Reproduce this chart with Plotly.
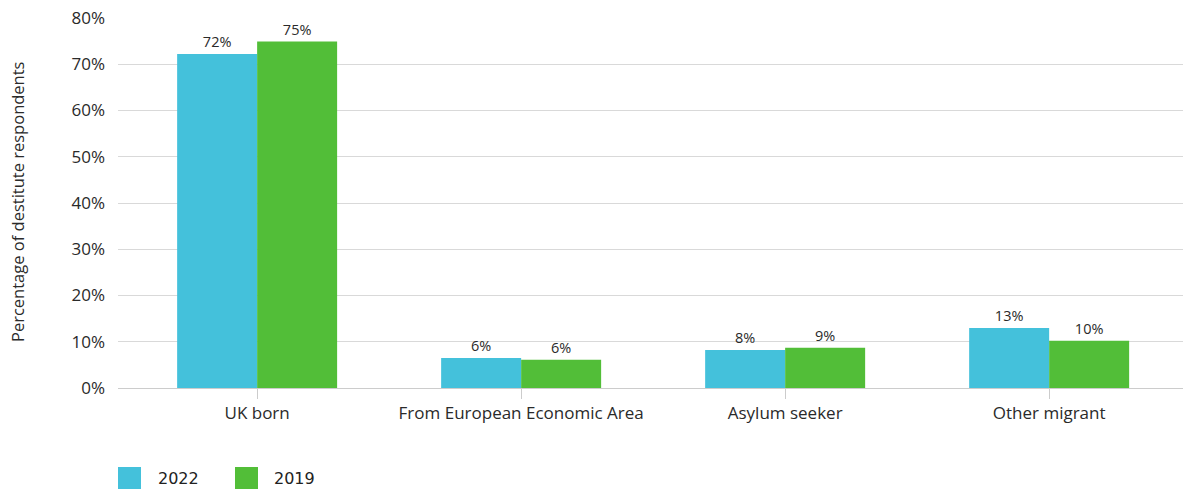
import plotly.graph_objects as go

categories = ["UK born", "From European Economic Area", "Asylum seeker", "Other migrant"]
series_names = ["2022", "2019"]
values_2022 = [72.2, 6.5, 8.2, 13.0]
values_2019 = [74.9, 6.1, 8.7, 10.2]
labels_2022 = ["72%", "6%", "8%", "13%"]
labels_2019 = ["75%", "6%", "9%", "10%"]
colors = ["#44c1db", "#52be38"]
y_ticks = [0, 10, 20, 30, 40, 50, 60, 70, 80]
y_ticklabels = [f"{v}%" for v in y_ticks]

FONT = "Open Sans"
W, H = 1183, 490
ML, MR, MT, MB = 118, 0, 18, 102

fig = go.Figure()
for name, vals, labs, col in [
    (series_names[0], values_2022, labels_2022, colors[0]),
    (series_names[1], values_2019, labels_2019, colors[1]),
]:
    fig.add_trace(go.Bar(
        x=categories, y=vals, name=name, marker=dict(color=col, line=dict(width=0)),
        text=labs, textposition="outside", cliponaxis=False,
        textfont=dict(family=FONT, size=14.5, color="#2a2a2a"),
        showlegend=False,
    ))

fig.update_layout(
    width=W, height=H,
    margin=dict(l=ML, r=MR, t=MT, b=MB, autoexpand=False),
    paper_bgcolor="white", plot_bgcolor="white",
    barmode="group", bargap=0.394, bargroupgap=0,
    font=dict(family=FONT, size=16, color="#2a2a2a"),
    xaxis=dict(
        type="category", range=[-0.527, 3.507],
        ticks="outside", ticklen=10, tickcolor="#cccccc", tickwidth=1,
        showgrid=False, showline=False, zeroline=False,
        tickfont=dict(family=FONT, size=17, color="#2a2a2a"),
    ),
    yaxis=dict(
        range=[0, 80], tickvals=y_ticks, ticktext=y_ticklabels,
        showgrid=True, gridcolor="#d9d9d9", gridwidth=1,
        zeroline=True, zerolinecolor="#cccccc", zerolinewidth=1,
        showline=False, ticks="", ticklabelstandoff=12,
        tickfont=dict(family=FONT, size=17, color="#2a2a2a"),
    ),
)

plot_w = W - ML - MR
plot_h = H - MT - MB
def px_x(p):
    return (p - ML) / plot_w
def px_y(p):
    return (H - MB - p) / plot_h

# y-axis title
fig.add_annotation(xref="paper", yref="paper", x=px_x(17), y=px_y(202),
                   text="Percentage of destitute respondents", textangle=-90,
                   showarrow=False, xanchor="center", yanchor="middle",
                   font=dict(family=FONT, size=16.5, color="#2a2a2a"))

# Legend drawn manually (larger swatches as in reference)
legend_items = [(series_names[0], colors[0], 118, 156), (series_names[1], colors[1], 235, 272)]
for name, col, sx, tx in legend_items:
    fig.add_shape(type="rect", xref="paper", yref="paper",
                  x0=px_x(sx), x1=px_x(sx + 23), y0=px_y(467), y1=px_y(489),
                  fillcolor=col, line=dict(width=0))
    fig.add_annotation(xref="paper", yref="paper", x=px_x(tx), y=px_y(478),
                       text=name, showarrow=False, xanchor="left", yanchor="middle",
                       font=dict(family="DejaVu Sans", size=16, color="#222222"))

fig.write_html("out.html", config={"displayModeBar": False},
               post_script="document.body.style.margin='0';")
